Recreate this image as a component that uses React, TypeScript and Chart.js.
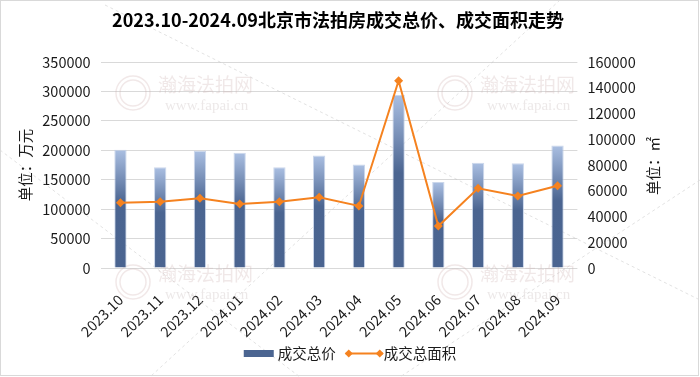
import React, { useEffect, useRef } from "react";
import { Chart, registerables } from "chart.js";

Chart.register(...registerables);

const categories = [
  "2023.10", "2023.11", "2023.12", "2024.01", "2024.02", "2024.03",
  "2024.04", "2024.05", "2024.06", "2024.07", "2024.08", "2024.09",
];
const totalPrice = [201000, 171000, 199000, 196000, 171000, 191000, 176000, 294000, 146000, 179000, 178000, 208000];
const totalArea = [50700, 51500, 54100, 49700, 51500, 54900, 48200, 145500, 32600, 61900, 55900, 63900];

const leftMax = 350000;
const leftStep = 50000;
const rightMax = 160000;
const rightStep = 20000;

const titleText = "2023.10-2024.09北京市法拍房成交总价、成交面积走势";
const leftTitle = "单位：万元";
const rightTitle = "单位：㎡";
const seriesNames = ["成交总价", "成交总面积"];

const FONT = "'Noto Sans CJK SC', 'Noto Sans', sans-serif";
const BAR_LIGHT = "#aabfe2";
const BAR_DARK = "#4b6591";
const LINE = "#f5821f";
const GRID = "#d9d9d9";
const TEXT = "#1a1a1a";

const decorPlugin = {
  id: "decor",
  beforeDatasetsDraw(chart: any) {
    const ctx = chart.ctx;
    ctx.save();
    // faint dashed watermark lines
    ctx.strokeStyle = "rgba(190,190,190,0.45)";
    ctx.lineWidth = 1;
    ctx.setLineDash([3, 3]);
    const segs = [
      [105, 5, 700, 300], [0, 150, 300, 377], [560, 0, 150, 377], [700, 180, 400, 377],
    ];
    for (const [x1, y1, x2, y2] of segs) {
      ctx.beginPath();
      ctx.moveTo(x1, y1);
      ctx.lineTo(x2, y2);
      ctx.stroke();
    }
    ctx.setLineDash([]);
    const marks = [
      [133, 93], [455, 93], [133, 282], [455, 282],
    ];
    for (const [cx, cy] of marks) {
      ctx.strokeStyle = "rgba(210,180,180,0.3)";
      ctx.lineWidth = 1.5;
      ctx.beginPath();
      ctx.arc(cx, cy, 17, 0, Math.PI * 2);
      ctx.stroke();
      ctx.beginPath();
      ctx.arc(cx, cy, 13, 0, Math.PI * 2);
      ctx.stroke();
      ctx.fillStyle = "rgba(205,180,180,0.3)";
      ctx.font = `19px ${FONT}`;
      ctx.textAlign = "left";
      ctx.textBaseline = "middle";
      ctx.fillText("瀚海法拍网", cx + 25, cy - 8);
      ctx.font = `15px 'Liberation Serif', serif`;
      ctx.fillStyle = "rgba(200,190,190,0.35)";
      ctx.fillText("www.fapai.cn", cx + 32, cy + 13);
    }
    ctx.restore();
  },
  afterDraw(chart: any) {
    const ctx = chart.ctx;
    ctx.save();
    // border
    ctx.strokeStyle = GRID;
    ctx.lineWidth = 1;
    ctx.strokeRect(0.5, 0.5, 698, 375);
    // title
    ctx.fillStyle = "#000";
    ctx.font = `bold 18px ${FONT}`;
    ctx.textAlign = "center";
    ctx.textBaseline = "middle";
    ctx.fillText(titleText, 338, 20);
    // axis titles
    ctx.font = `14.5px ${FONT}`;
    ctx.fillStyle = TEXT;
    ctx.save();
    ctx.translate(25, 165);
    ctx.rotate(-Math.PI / 2);
    ctx.fillText(leftTitle, 0, 0);
    ctx.restore();
    ctx.save();
    ctx.translate(653, 166);
    ctx.rotate(-Math.PI / 2);
    ctx.fillText(rightTitle, 0, 0);
    ctx.restore();
    // legend
    ctx.font = `14.5px ${FONT}`;
    const w1 = ctx.measureText(seriesNames[0]).width;
    const w2 = ctx.measureText(seriesNames[1]).width;
    const boxW = 30, gap1 = 4, spacing = 10, lineW = 37, gap2 = 1;
    const total = boxW + gap1 + w1 + spacing + lineW + gap2 + w2;
    let x = 350 - total / 2;
    const y = 353.5;
    ctx.fillStyle = BAR_DARK;
    ctx.fillRect(x, y - 3.5, boxW, 7);
    x += boxW + gap1;
    ctx.fillStyle = TEXT;
    ctx.textAlign = "left";
    ctx.fillText(seriesNames[0], x, y);
    x += w1 + spacing;
    ctx.strokeStyle = LINE;
    ctx.lineWidth = 2;
    ctx.beginPath();
    ctx.moveTo(x, y);
    ctx.lineTo(x + lineW, y);
    ctx.stroke();
    ctx.fillStyle = LINE;
    for (const dx of [3, lineW - 3]) {
      ctx.beginPath();
      ctx.moveTo(x + dx - 4, y);
      ctx.lineTo(x + dx, y - 4);
      ctx.lineTo(x + dx + 4, y);
      ctx.lineTo(x + dx, y + 4);
      ctx.closePath();
      ctx.fill();
    }
    x += lineW + gap2;
    ctx.fillStyle = TEXT;
    ctx.fillText(seriesNames[1], x, y);
    ctx.restore();
  },
};

export default function App() {
  const ref = useRef<HTMLCanvasElement | null>(null);
  useEffect(() => {
    if (!ref.current) return;
    Chart.defaults.font.family = FONT;
    const chart = new Chart(ref.current, {
      type: "bar",
      data: {
        labels: categories,
        datasets: [
          {
            type: "line",
            label: seriesNames[1],
            data: totalArea,
            yAxisID: "y1",
            borderColor: LINE,
            backgroundColor: LINE,
            borderWidth: 2,
            pointStyle: "rectRot",
            pointRadius: 4.5,
            pointBackgroundColor: LINE,
            pointBorderColor: LINE,
            pointBorderWidth: 0,
            tension: 0,
            order: 0,
          } as any,
          {
            type: "bar",
            label: seriesNames[0],
            data: totalPrice,
            yAxisID: "y",
            barPercentage: 0.31,
            categoryPercentage: 1,
            borderWidth: 1,
            borderColor: "rgba(190,205,230,0.8)",
            backgroundColor: (c: any) => {
              const chart = c.chart;
              if (!chart.chartArea || c.type !== "data") return BAR_DARK;
              const ys = chart.scales.y;
              const top = ys.getPixelForValue(c.raw);
              const bottom = ys.getPixelForValue(0);
              const g = chart.ctx.createLinearGradient(0, top, 0, bottom);
              g.addColorStop(0, BAR_LIGHT);
              g.addColorStop(0.45, BAR_DARK);
              g.addColorStop(1, "#4a6490");
              return g;
            },
            order: 1,
          } as any,
        ],
      },
      options: {
        responsive: false,
        animation: false,
        layout: { padding: { top: 62, left: 0, right: 0, bottom: 0 } },
        plugins: {
          legend: { display: false },
          title: { display: false },
          tooltip: { enabled: false },
        },
        scales: {
          x: {
            grid: { display: false },
            border: { display: false },
            ticks: {
              minRotation: 45,
              maxRotation: 45,
              padding: 15,
              color: TEXT,
              font: { size: 14.5, family: FONT },
              autoSkip: false,
            },
            afterFit: (s: any) => { s.height = 109; },
          },
          y: {
            position: "left",
            min: 0,
            max: leftMax,
            grid: { color: GRID, drawTicks: false },
            border: { display: false },
            ticks: {
              stepSize: leftStep,
              padding: 10,
              color: TEXT,
              font: { size: 14.5, family: FONT },
              callback: (v: any) => String(v),
            },
            afterFit: (s: any) => { s.width = 100.6; },
          },
          y1: {
            position: "right",
            min: 0,
            max: rightMax,
            grid: { display: false, drawTicks: false },
            border: { display: false },
            ticks: {
              stepSize: rightStep,
              padding: 10,
              color: TEXT,
              font: { size: 14.5, family: FONT },
              callback: (v: any) => String(v),
            },
            afterFit: (s: any) => { s.width = 122.6; },
          },
        },
      } as any,
      plugins: [decorPlugin],
    });
    return () => chart.destroy();
  }, []);
  return (
    <div style={{ position: "absolute", left: 0, top: 0, width: 700, height: 377, background: "#fff" }}>
      <canvas ref={ref} width={700} height={377} style={{ width: 700, height: 377 }} />
    </div>
  );
}
